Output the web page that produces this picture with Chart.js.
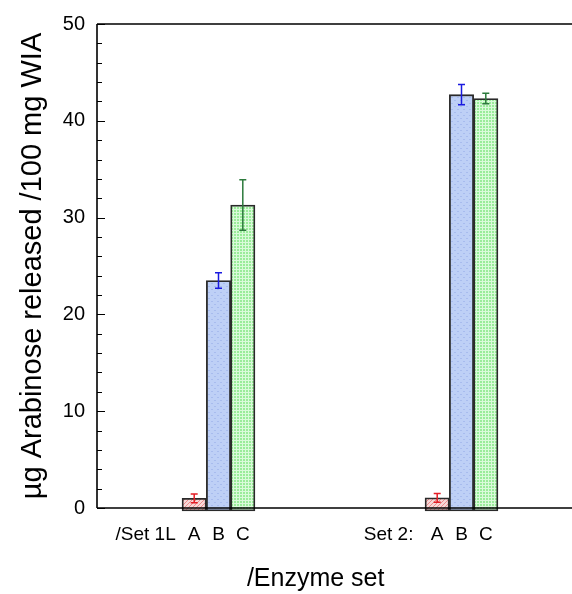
<!DOCTYPE html>
<html>
<head>
<meta charset="utf-8">
<script src="https://cdn.jsdelivr.net/npm/chart.js@4"></script>
<style>
  html, body { margin: 0; padding: 0; background: #fff; overflow: hidden; }
  #wrap { width: 572px; height: 594px; }
</style>
</head>
<body>
<div id="wrap"><canvas id="arabinoseChart" width="572" height="594"></canvas></div>
<script>
// x axis slots: set names and enzyme letters
var slotLabels = ['', '', '/Set 1L', '', 'A', 'B', 'C', '', '', '', '', '', 'Set 2:', '', 'A', 'B', 'C', '', ''];
var enzymes = ['A', 'B', 'C'];

// µg arabinose released per enzyme (A, B, C)
var set1Values = [1.0, 23.5, 31.3];
var set1Errors = [0.45, 0.8, 2.6];
var set2Values = [1.05, 42.7, 42.3];
var set2Errors = [0.45, 1.05, 0.55];

var yTicks = [0, 10, 20, 30, 40, 50];

function makePattern(kind) {
    var c = document.createElement('canvas');
    var g = c.getContext('2d');
    if (kind === 'A') {
        c.width = 4; c.height = 4;
        g.fillStyle = '#f8d8d8';
        g.fillRect(0, 0, 4, 4);
        g.strokeStyle = '#ec8c8c';
        g.lineWidth = 1;
        g.beginPath();
        g.moveTo(0, 4); g.lineTo(4, 0);
        g.moveTo(-1, 1); g.lineTo(1, -1);
        g.moveTo(3, 5); g.lineTo(5, 3);
        g.stroke();
    } else if (kind === 'B') {
        c.width = 6; c.height = 6;
        g.fillStyle = '#bed0f6';
        g.fillRect(0, 0, 6, 6);
        g.fillStyle = '#a8bcee';
        g.fillRect(1, 1, 2, 1);
        g.fillRect(4, 4, 2, 1);
    } else {
        c.width = 3; c.height = 3;
        g.fillStyle = '#dafbda';
        g.fillRect(0, 0, 3, 3);
        g.fillStyle = '#9aec9a';
        g.fillRect(0, 0, 2, 2);
    }
    return document.getElementById('arabinoseChart').getContext('2d').createPattern(c, 'repeat');
}

var errorColors = { A: '#e41e26', B: '#1a1ae0', C: '#2c7a3c' };

// build one dataset per enzyme, placed on the slots labelled with its letter
function buildDatasets() {
    return enzymes.map(function(name, i) {
        var data = slotLabels.map(function() { return null; });
        var errs = slotLabels.map(function() { return null; });
        var seen = 0;
        slotLabels.forEach(function(lab, idx) {
            if (lab === name) {
                data[idx] = seen === 0 ? set1Values[i] : set2Values[i];
                errs[idx] = seen === 0 ? set1Errors[i] : set2Errors[i];
                seen++;
            }
        });
        return {
            label: name,
            data: data,
            errors: errs,
            errorColor: errorColors[name],
            backgroundColor: makePattern(name),
            borderColor: '#2a2a2a',
            borderWidth: 1.8,
            borderSkipped: false,
            base: -0.3,
            grouped: false,
            barPercentage: 1,
            categoryPercentage: 1,
            clip: false
        };
    });
}

// error bars with caps
var errorBarPlugin = {
    id: 'errorBars',
    afterDatasetsDraw: function(chart) {
        var ctx = chart.ctx;
        var y = chart.scales.y;
        chart.data.datasets.forEach(function(ds, di) {
            var meta = chart.getDatasetMeta(di);
            meta.data.forEach(function(bar, idx) {
                if (ds.data[idx] === null) return;
                var top = y.getPixelForValue(ds.data[idx] + ds.errors[idx]);
                var bot = y.getPixelForValue(ds.data[idx] - ds.errors[idx]);
                ctx.save();
                ctx.strokeStyle = ds.errorColor;
                ctx.lineWidth = 1.5;
                ctx.beginPath();
                ctx.moveTo(bar.x, top); ctx.lineTo(bar.x, bot);
                ctx.moveTo(bar.x - 3.5, top); ctx.lineTo(bar.x + 3.5, top);
                ctx.moveTo(bar.x - 3.5, bot); ctx.lineTo(bar.x + 3.5, bot);
                ctx.stroke();
                ctx.restore();
            });
        });
    }
};

// frame lines and inward tick marks
var framePlugin = {
    id: 'frame',
    afterDraw: function(chart) {
        var ctx = chart.ctx;
        var a = chart.chartArea;
        var y = chart.scales.y;
        ctx.save();
        ctx.strokeStyle = '#000';
        ctx.lineWidth = 1.6;
        ctx.beginPath();
        ctx.moveTo(a.left, a.top); ctx.lineTo(chart.width, a.top);
        ctx.moveTo(a.left, a.bottom); ctx.lineTo(chart.width, a.bottom);
        ctx.moveTo(a.left, a.top); ctx.lineTo(a.left, a.bottom);
        ctx.stroke();
        ctx.lineWidth = 1;
        ctx.beginPath();
        for (var v = 0; v <= 50; v += 2) {
            var py = Math.round(y.getPixelForValue(v)) + 0.5;
            var len = (v % 10 === 0) ? 8 : 5;
            ctx.moveTo(a.left, py); ctx.lineTo(a.left + len, py);
        }
        ctx.stroke();
        ctx.restore();
    }
};

window.onload = function() {
    var ctx = document.getElementById('arabinoseChart').getContext('2d');
    var chart = new Chart(ctx, {
        type: 'bar',
        data: {
            labels: slotLabels,
            datasets: buildDatasets()
        },
        options: {
            responsive: false,
            animation: false,
            layout: {
                padding: { top: 22, right: 37.6, left: 0, bottom: 0 }
            },
            plugins: {
                legend: { display: false },
                tooltip: { enabled: false }
            },
            scales: {
                x: {
                    offset: false,
                    grid: { display: false, drawTicks: false },
                    border: { display: false },
                    ticks: {
                        autoSkip: false,
                        maxRotation: 0,
                        padding: 15,
                        color: '#000',
                        font: { family: 'Liberation Sans', size: 19 }
                    },
                    title: {
                        display: true,
                        text: '/Enzyme set',
                        color: '#000',
                        padding: { top: 0, bottom: 0 },
                        font: { family: 'Liberation Sans', size: 25 }
                    },
                    afterFit: function(scale) { scale.height = 86; }
                },
                y: {
                    min: 0,
                    max: 50,
                    grid: { display: false, drawTicks: false },
                    border: { display: false },
                    afterBuildTicks: function(scale) {
                        scale.ticks = yTicks.map(function(v) { return { value: v }; });
                    },
                    ticks: {
                        padding: 12,
                        color: '#000',
                        font: { family: 'Liberation Sans', size: 20 }
                    },
                    title: {
                        display: true,
                        text: 'µg Arabinose released /100 mg WIA',
                        color: '#000',
                        padding: { top: 16, bottom: 0 },
                        font: { family: 'Liberation Sans', size: 29 }
                    },
                    afterFit: function(scale) { scale.width = 97; }
                }
            }
        },
        plugins: [errorBarPlugin, framePlugin]
    });
};
</script>
</body>
</html>
